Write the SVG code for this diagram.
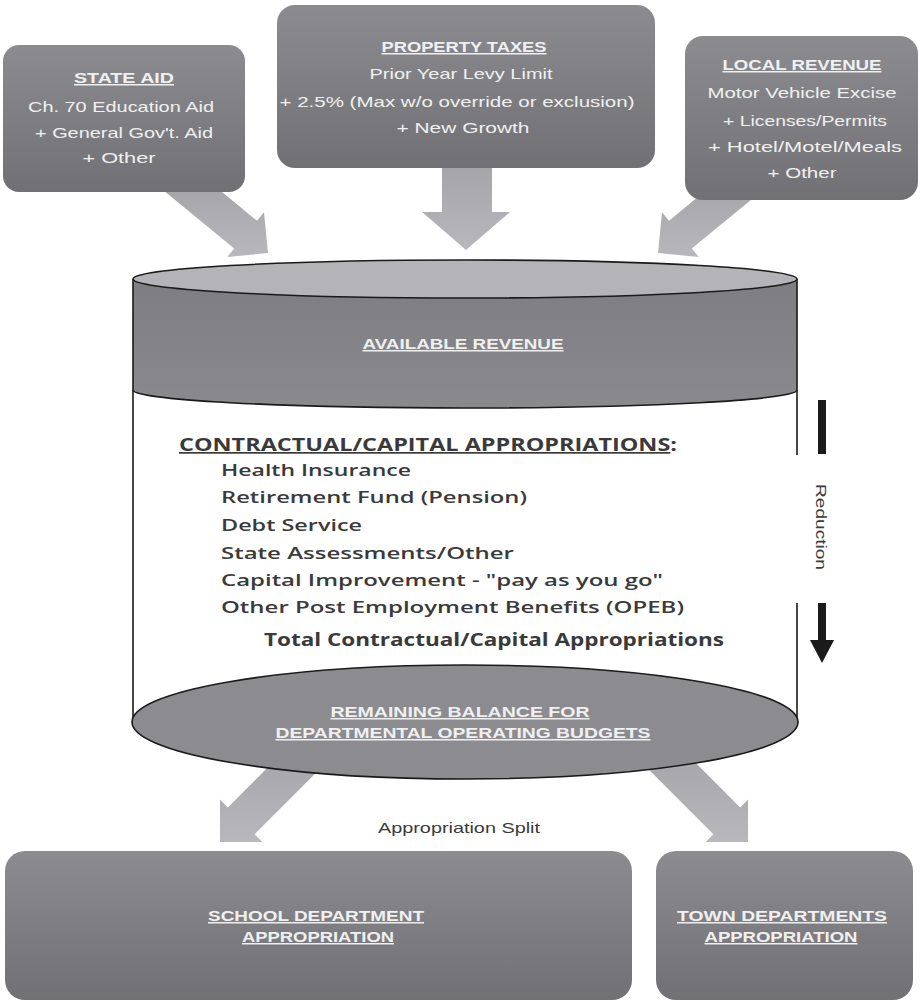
<svg xmlns="http://www.w3.org/2000/svg" width="920" height="1002" viewBox="0 0 920 1002">
<defs>
<linearGradient id="boxg" x1="0" y1="0" x2="0" y2="1">
<stop offset="0" stop-color="#8c8c90"/><stop offset="1" stop-color="#717175"/>
</linearGradient>
<linearGradient id="arrg" x1="0" y1="0" x2="0" y2="1">
<stop offset="0" stop-color="#a4a4a8"/><stop offset="1" stop-color="#b8b8bc"/>
</linearGradient>
<linearGradient id="bandg" x1="0" y1="0" x2="0" y2="1">
<stop offset="0" stop-color="#7e7e82"/><stop offset="1" stop-color="#8a8a8e"/>
</linearGradient>
<style>
.box{fill:url(#boxg);}
.arr{fill:url(#arrg);}
.bt{font-family:"Liberation Sans",Arial,sans-serif;font-size:15px;fill:#f0f0f0;text-anchor:middle;}
.bh{font-weight:bold;text-decoration:underline;}
.ct{font-family:"Open Sans","Liberation Sans",sans-serif;font-size:17px;font-weight:600;fill:#3a3a3a;}
.cb{font-weight:700;}
.edge{fill:none;stroke:#1a1a1a;stroke-width:1.6;}
.lab{font-family:"Liberation Sans",Arial,sans-serif;font-size:15px;fill:#3a3a3a;text-anchor:middle;}
</style>
</defs>
<rect width="920" height="1002" fill="#ffffff"/>

<g id="connectors">
<polygon class="arr" points="150.8,180 207.5,180 257,220.7 264,212.2 268,253 227.2,257 234.2,248.5"/>
<polygon class="arr" points="442,160 492,160 492,212 510,212 466,250 422,212 442,212"/>
<polygon class="arr" points="775.2,180 718.5,180 669,220.7 662,212.2 658,253 698.8,257 691.8,248.5"/>
<polygon class="arr" points="290.2,745 227.8,807.4 220,799.6 220,842 262.4,842 254.6,834.2 343.8,745"/>
<polygon class="arr" points="677.8,745 740.2,807.4 748,799.6 748,842 705.6,842 713.4,834.2 624.2,745"/>
<g id="reduction">
<rect x="818" y="400" width="8" height="54" fill="#1a1a1a"/>
<rect x="818" y="603" width="8" height="40" fill="#1a1a1a"/>
<polygon points="810,640 834,640 822,663" fill="#1a1a1a"/>
<text x="0" y="0" transform="translate(816,527) rotate(90)" class="lab" font-size="16" textLength="86" lengthAdjust="spacingAndGlyphs" dy="0">Reduction</text>
</g>
<text class="lab" x="459" y="833" textLength="162" lengthAdjust="spacingAndGlyphs">Appropriation Split</text>
</g>

<g id="state-aid">
<rect class="box" x="3" y="45" width="242" height="147" rx="16"/>
<text class="bt bh" x="124" y="83" textLength="100" lengthAdjust="spacingAndGlyphs">STATE AID</text>
<text class="bt" x="121" y="112" textLength="186" lengthAdjust="spacingAndGlyphs">Ch. 70 Education Aid</text>
<text class="bt" x="124" y="138" textLength="178" lengthAdjust="spacingAndGlyphs">+ General Gov't. Aid</text>
<text class="bt" x="119" y="163" textLength="73" lengthAdjust="spacingAndGlyphs">+ Other</text>
</g>

<g id="property-taxes">
<rect class="box" x="277" y="5" width="378" height="163" rx="18"/>
<text class="bt bh" x="464" y="52" textLength="165" lengthAdjust="spacingAndGlyphs">PROPERTY TAXES</text>
<text class="bt" x="461" y="79" textLength="183" lengthAdjust="spacingAndGlyphs">Prior Year Levy Limit</text>
<text class="bt" x="457" y="107" textLength="355" lengthAdjust="spacingAndGlyphs">+ 2.5% (Max w/o override or exclusion)</text>
<text class="bt" x="463" y="133" textLength="133" lengthAdjust="spacingAndGlyphs">+ New Growth</text>
</g>

<g id="local-revenue">
<rect class="box" x="685" y="36" width="233" height="164" rx="18"/>
<text class="bt bh" x="802" y="70" textLength="159" lengthAdjust="spacingAndGlyphs">LOCAL REVENUE</text>
<text class="bt" x="802" y="98" textLength="189" lengthAdjust="spacingAndGlyphs">Motor Vehicle Excise</text>
<text class="bt" x="805" y="126" textLength="164" lengthAdjust="spacingAndGlyphs">+ Licenses/Permits</text>
<text class="bt" x="805" y="152" textLength="194" lengthAdjust="spacingAndGlyphs">+ Hotel/Motel/Meals</text>
<text class="bt" x="802" y="178" textLength="69" lengthAdjust="spacingAndGlyphs">+ Other</text>
</g>

<g id="available-revenue">
<path d="M133,279 L133,390 A332,18 0 0 0 797,390 L797,279 Z" fill="url(#bandg)"/>
<path class="edge" d="M133,279 L133,390 A332,18 0 0 0 797,390 L797,279"/>
<ellipse cx="465" cy="279" rx="332" ry="19" fill="#b4b4b8" stroke="#1a1a1a" stroke-width="1.6"/>
<text class="bt bh" x="463" y="349" textLength="201" lengthAdjust="spacingAndGlyphs">AVAILABLE REVENUE</text>
</g>

<g id="contractual">
<line class="edge" x1="133" y1="390" x2="133" y2="722"/>
<line class="edge" x1="797" y1="390" x2="797" y2="455"/>
<line class="edge" x1="797" y1="603" x2="797" y2="722"/>
<text class="ct cb" x="179" y="451" textLength="498" lengthAdjust="spacingAndGlyphs"><tspan text-decoration="underline">CONTRACTUAL/CAPITAL APPROPRIATIONS</tspan>:</text>
<text class="ct" x="221" y="476" textLength="190" lengthAdjust="spacingAndGlyphs">Health Insurance</text>
<text class="ct" x="221" y="503" textLength="306" lengthAdjust="spacingAndGlyphs">Retirement Fund (Pension)</text>
<text class="ct" x="221" y="531" textLength="141" lengthAdjust="spacingAndGlyphs">Debt Service</text>
<text class="ct" x="221" y="559" textLength="293" lengthAdjust="spacingAndGlyphs">State Assessments/Other</text>
<text class="ct" x="221" y="586" textLength="442" lengthAdjust="spacingAndGlyphs">Capital Improvement - "pay as you go"</text>
<text class="ct" x="221" y="613" textLength="463" lengthAdjust="spacingAndGlyphs">Other Post Employment Benefits (OPEB)</text>
<text class="ct cb" x="264" y="646" textLength="460" lengthAdjust="spacingAndGlyphs">Total Contractual/Capital Appropriations</text>
</g>

<g id="remaining-balance">
<ellipse cx="465" cy="722" rx="333" ry="57" fill="#8c8c90" stroke="#1a1a1a" stroke-width="1.6"/>
<text class="bt bh" x="460" y="717" textLength="259" lengthAdjust="spacingAndGlyphs">REMAINING BALANCE FOR</text>
<text class="bt bh" x="463" y="738" textLength="375" lengthAdjust="spacingAndGlyphs">DEPARTMENTAL OPERATING BUDGETS</text>
</g>

<g id="school-department">
<rect class="box" x="5" y="851" width="627" height="149" rx="20"/>
<text class="bt bh" x="316" y="921" textLength="216" lengthAdjust="spacingAndGlyphs">SCHOOL DEPARTMENT</text>
<text class="bt bh" x="318" y="942" textLength="152" lengthAdjust="spacingAndGlyphs">APPROPRIATION</text>
</g>

<g id="town-departments">
<rect class="box" x="656" y="851" width="257" height="149" rx="20"/>
<text class="bt bh" x="782" y="921" textLength="210" lengthAdjust="spacingAndGlyphs">TOWN DEPARTMENTS</text>
<text class="bt bh" x="781" y="942" textLength="153" lengthAdjust="spacingAndGlyphs">APPROPRIATION</text>
</g>
</svg>
